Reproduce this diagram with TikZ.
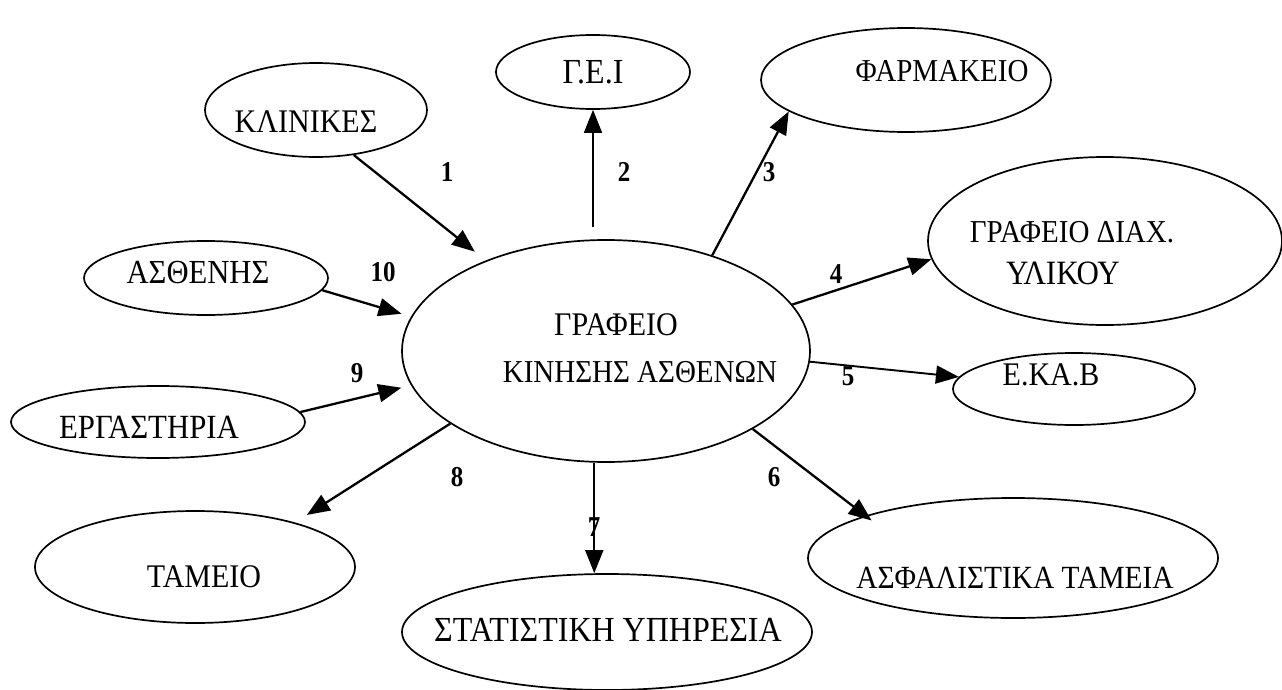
\documentclass[tikz,border=0pt]{standalone}
\usepackage{fontspec}
\setmainfont{Liberation Serif}
\usetikzlibrary{shapes.geometric,arrows.meta}

% slightly tall lettering
\newcommand{\tall}[1]{\scalebox{1}[1.1]{#1}}
\newcommand{\tallnum}[1]{\scalebox{1}[1.15]{#1}}

\begin{document}
\begin{tikzpicture}[x=1pt,y=-1pt,
  oval/.style={draw, ellipse, line width=1.7pt, inner sep=0pt},
  lbl/.style={inner sep=0pt, font=\fontsize{30}{32}\selectfont},
  num/.style={inner sep=0pt, font=\fontsize{25}{27}\selectfont\bfseries},
  flow/.style={line width=2.3pt, -{Triangle[length=23pt,width=18pt]}},
  thinflow/.style={flow, line width=1.7pt}]
\useasboundingbox (0,0) rectangle (1282,690);
\fill[white] (0,0) rectangle (1282,690);

% central office
\node[oval, minimum width=408pt, minimum height=222pt] (cen) at (606,351) {};
\node[lbl] (cenA) at (616,325) {\tall{ΓΡΑΦΕΙΟ}};
\node[lbl, font=\fontsize{29}{31}\selectfont] (cenB) at (640,372) {\tall{ΚΙΝΗΣΗΣ ΑΣΘΕΝΩΝ}};

% surrounding departments
\node[oval, minimum width=222pt, minimum height=94pt] (kl) at (316,110) {};
\node[lbl] (klT) at (306,122) {\tall{ΚΛΙΝΙΚΕΣ}};

\node[oval, minimum width=194pt, minimum height=74pt] (gei) at (593,72) {};
\node[lbl, font=\fontsize{32}{34}\selectfont] (geiT) at (593,72) {\tall{Γ.Ε.Ι}};

\node[oval, minimum width=290pt, minimum height=104pt] (ph) at (906,80) {};
\node[lbl, font=\fontsize{29}{31}\selectfont] (phT) at (942,71) {\tall{ΦΑΡΜΑΚΕΙΟ}};

\node[oval, minimum width=354pt, minimum height=168pt] (dx) at (1105,241) {};
\node[lbl, font=\fontsize{29}{31}\selectfont] (dxA) at (1072,232) {\tall{ΓΡΑΦΕΙΟ ΔΙΑΧ.}};
\node[lbl, font=\fontsize{31}{33}\selectfont] (dxB) at (1063,273) {\tall{ΥΛΙΚΟΥ}};

\node[oval, minimum width=242pt, minimum height=72pt] (ek) at (1074,389) {};
\node[lbl] (ekT) at (1051,375) {\tall{Ε.ΚΑ.Β}};

\node[oval, minimum width=410pt, minimum height=120pt] (as) at (1013,558) {};
\node[lbl, font=\fontsize{29.4}{31}\selectfont] (asT) at (1015,578) {\tall{ΑΣΦΑΛΙΣΤΙΚΑ ΤΑΜΕΙΑ}};

\node[oval, minimum width=410pt, minimum height=116pt] (stat) at (607,632) {};
\node[lbl, font=\fontsize{32}{34}\selectfont] (statT) at (608,630) {\tall{ΣΤΑΤΙΣΤΙΚΗ ΥΠΗΡΕΣΙΑ}};

\node[oval, minimum width=320pt, minimum height=112pt] (tam) at (195,567) {};
\node[lbl] (tamT) at (204,577) {\tall{ΤΑΜΕΙΟ}};

\node[oval, minimum width=294pt, minimum height=72pt] (erg) at (158,422) {};
\node[lbl, font=\fontsize{30.8}{32}\selectfont] (ergT) at (149,427) {\tall{ΕΡΓΑΣΤΗΡΙΑ}};

\node[oval, minimum width=244pt, minimum height=74pt] (ast) at (206,278) {};
\node[lbl, font=\fontsize{30.6}{32}\selectfont] (astT) at (198,273) {\tall{ΑΣΘΕΝΗΣ}};

% flows
\draw[flow, shorten >=14pt] (kl.-50) -- (cen.143);
\draw[thinflow] ([yshift=12pt]cen.north -| gei.south) -- (gei.south);
\draw[flow] (cen.42) -- (ph.-165);
\draw[flow] (cen.14) -- (dx.-174);
\draw[flow, line width=1.9pt] (cen.-3) -- (ek.174);
\draw[flow, shorten >=-8pt] (cen.-28) -- (as.164);
\draw[thinflow] (cen.-96) -- (cen.-96 |- stat.north);
\draw[flow, shorten >=14pt] (cen.-155) -- (tam.24);
\draw[flow, shorten >=10pt] (erg.4) -- (cen.-170);
\draw[flow, shorten >=10pt] (ast.-6) -- (cen.170);

% flow numbers
\node[num] (n1) at (447,172) {\tallnum{1}};
\node[num] (n2) at (624,172) {\tallnum{2}};
\node[num] (n3) at (769,172) {\tallnum{3}};
\node[num] (n4) at (836,274) {\tallnum{4}};
\node[num] (n5) at (848,376) {\tallnum{5}};
\node[num] (n6) at (774,477) {\tallnum{6}};
\node[num] (n7) at (594,527) {\tallnum{7}};
\node[num] (n8) at (457,477) {\tallnum{8}};
\node[num] (n9) at (357,373) {\tallnum{9}};
\node[num] (n10) at (383,272) {\tallnum{10}};
\end{tikzpicture}
\end{document}
